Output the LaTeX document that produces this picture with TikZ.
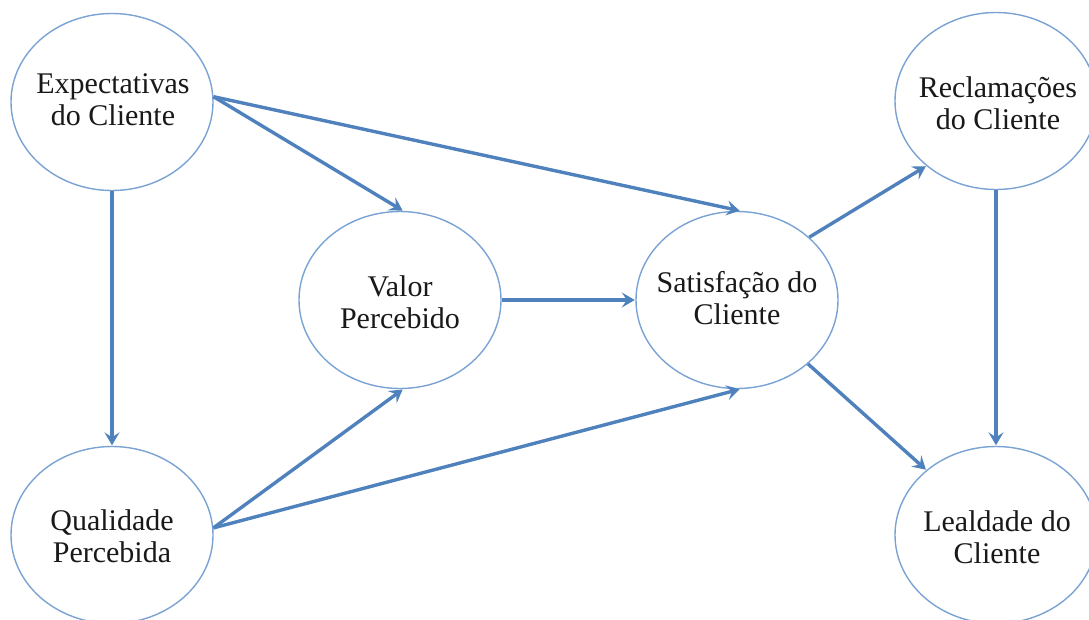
\documentclass[tikz,border=0pt]{standalone}
\usepackage{fontspec}
\setmainfont{Liberation Serif}
\usetikzlibrary{shapes.geometric,arrows.meta}
\definecolor{arrowblue}{HTML}{4F81BD}
\definecolor{ringblue}{HTML}{7AA3D4}
\tikzset{
  blob/.style={ellipse, draw=ringblue, line width=1.4pt, fill=white, inner sep=0pt,
    minimum width=202pt, minimum height=177pt},
  lbl/.style={align=center, inner sep=0pt,
    font=\fontsize{30}{32}\selectfont, text=black!90},
  link/.style={draw=arrowblue, line width=3.4pt,
    -{Stealth[length=13pt,width=15pt,inset=5pt]}, shorten >=0.5pt}
}
\begin{document}
\begin{tikzpicture}[x=1pt,y=-1pt]
\useasboundingbox (0,0) rectangle (1089,619);
\node[blob] (exp) at (112,102) {};
\node[blob] (qual) at (112,535) {};
\node[blob] (valor) at (400,300) {};
\node[blob] (sat) at (737,300) {};
\node[blob] (recl) at (996,101) {};
\node[blob] (leal) at (996,535) {};
\node[lbl] (expT) at (113,100) {Expectativas\\do Cliente};
\node[lbl] (qualT) at (112,536) {Qualidade\\Percebida};
\node[lbl] (valorT) at (400,302) {Valor\\Percebido};
\node[lbl] (satT) at (737,298) {Satisfação do\\Cliente};
\node[lbl] (reclT) at (998,103) {Reclamações\\do Cliente};
\node[lbl] (lealT) at (997,537) {Lealdade do\\Cliente};
\draw[link] (exp.3) -- (valor.88);
\draw[link] (exp.3) -- (sat.88);
\draw[link] (exp.south) -- (qual.north);
\draw[link] (qual.4) -- (valor.-88);
\draw[link] (qual.4) -- (sat.-88);
\draw[link] (valor.east) -- (sat.west);
\draw[link] (sat.41) -- (recl.223);
\draw[link] (sat.-42) -- (leal.137);
\draw[link] (recl.south) -- (leal.north);
\end{tikzpicture}
\end{document}
